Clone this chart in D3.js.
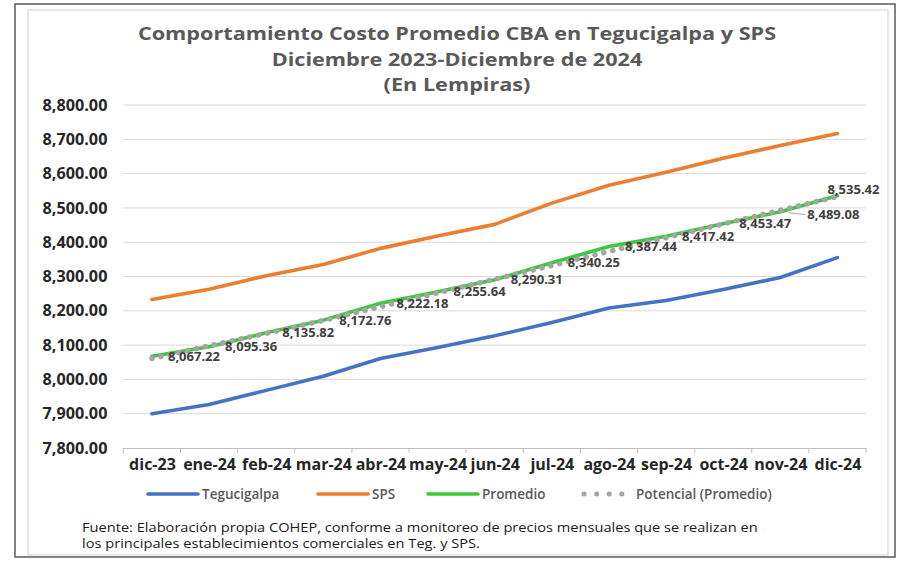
<!DOCTYPE html>
<html>
<head>
<meta charset="utf-8">
<script src="https://cdn.jsdelivr.net/npm/d3@7"></script>
<style>
  body { margin: 0; background: #fff; }
  svg { display: block; font-family: "Open Sans", sans-serif; }
</style>
</head>
<body>
<svg id="chart" width="918" height="563"></svg>
<script>
const months = ["dic-23", "ene-24", "feb-24", "mar-24", "abr-24", "may-24", "jun-24",
                "jul-24", "ago-24", "sep-24", "oct-24", "nov-24", "dic-24"];
const tegucigalpa = [7900, 7927, 7968, 8009, 8061, 8093, 8127, 8166, 8208, 8230, 8262, 8297, 8355];
const sps = [8233, 8263, 8302, 8335, 8382, 8418, 8452, 8514, 8566, 8604, 8645, 8682, 8717];
const promedio = [8067.22, 8095.36, 8135.82, 8172.76, 8222.18, 8255.64, 8290.31,
                  8340.25, 8387.44, 8417.42, 8453.47, 8489.08, 8535.42];
const potencial = [8061, 8098, 8134, 8172, 8212, 8252, 8292, 8332, 8373, 8413, 8453, 8493, 8533];
const yTicks = [7800, 7900, 8000, 8100, 8200, 8300, 8400, 8500, 8600, 8700, 8800];

const titleLines = ["Comportamiento Costo Promedio CBA en Tegucigalpa y SPS",
                    "Diciembre 2023-Diciembre de 2024",
                    "(En Lempiras)"];
const notes = ["Fuente: Elaboración propia COHEP, conforme a monitoreo de precios mensuales que se realizan en",
               "los principales establecimientos comerciales en Teg. y SPS."];

const svg = d3.select("#chart");

// frames
svg.append("rect").attr("x", 15).attr("y", 4).attr("width", 880).attr("height", 553)
  .attr("fill", "none").attr("stroke", "#595959").attr("stroke-width", 1.5);
svg.append("rect").attr("x", 28).attr("y", 10).attr("width", 860).attr("height", 545)
  .attr("fill", "none").attr("stroke", "#d9d9d9").attr("stroke-width", 1.2);

// title (the source text is horizontally stretched, so scale x a little)
svg.append("g").selectAll("text").data(titleLines).enter().append("text")
  .attr("transform", (d, i) => `translate(457,${40 + i * 25.5}) scale(1.17,1)`)
  .attr("text-anchor", "middle")
  .attr("font-size", 18.5).attr("font-weight", "bold").attr("fill", "#595959")
  .text(d => d);

const left = 123.4, right = 866;
const x = d3.scalePoint().domain(months).range([left, right]).padding(0.5);
const y = d3.scaleLinear().domain([7800, 8800]).range([448, 105]);

// gridlines
svg.append("g").selectAll("line").data(yTicks.slice(1)).enter().append("line")
  .attr("x1", left).attr("x2", right)
  .attr("y1", d => y(d)).attr("y2", d => y(d))
  .attr("stroke", "#d9d9d9").attr("stroke-width", 1);

// y axis labels
const yAxis = svg.append("g")
  .attr("transform", `translate(${left},0)`)
  .call(d3.axisLeft(y).tickValues(yTicks).tickFormat(d3.format(",.2f")).tickSize(0).tickPadding(16));
yAxis.select(".domain").remove();
yAxis.selectAll("text").attr("font-size", 16.2).attr("font-weight", "bold")
  .attr("fill", "#262626").attr("font-family", "Open Sans, sans-serif");

// x axis
const step = x.step();
const xAxis = svg.append("g").attr("transform", `translate(0,${y(7800)})`)
  .call(d3.axisBottom(x).tickSize(0).tickPadding(11));
xAxis.select(".domain").attr("stroke", "#bfbfbf");
xAxis.selectAll("text").attr("font-size", 16).attr("font-weight", "bold")
  .attr("fill", "#262626").attr("font-family", "Open Sans, sans-serif");
xAxis.append("g").selectAll("line").data(months.concat([""])).enter().append("line")
  .attr("x1", (d, i) => left + i * step).attr("x2", (d, i) => left + i * step)
  .attr("y1", 0).attr("y2", 5).attr("stroke", "#bfbfbf");

// series lines
const line = d3.line().x((d, i) => x(months[i])).y(d => y(d));
const series = [
  { values: tegucigalpa, color: "#4472C4" },
  { values: sps, color: "#ED7D31" },
  { values: promedio, color: "#3CC83C" }
];
series.forEach(s => {
  svg.append("path").datum(s.values).attr("d", line)
    .attr("fill", "none").attr("stroke", s.color).attr("stroke-width", 3.6)
    .attr("stroke-linejoin", "round").attr("stroke-linecap", "round");
});
svg.append("path").datum(potencial).attr("d", line)
  .attr("fill", "none").attr("stroke", "#A5A5A5").attr("stroke-width", 5.5)
  .attr("stroke-linecap", "round").attr("stroke-dasharray", "0.1 9");

// data labels
const fmt = d3.format(",.2f");
const offsets = promedio.map(() => [16, 0]);
offsets[11] = [27, 3];
offsets[12] = [-10, -6];
svg.append("line")
  .attr("x1", x(months[11]) + 8).attr("y1", y(promedio[11]) + 1)
  .attr("x2", x(months[11]) + 25).attr("y2", y(promedio[11]) + 3)
  .attr("stroke", "#a6a6a6").attr("stroke-width", 1);
svg.append("g").selectAll("text").data(promedio).enter().append("text")
  .attr("x", (d, i) => x(months[i]) + offsets[i][0])
  .attr("y", (d, i) => y(d) + offsets[i][1])
  .attr("dy", "0.35em")
  .attr("font-size", 13).attr("font-weight", "bold").attr("fill", "#404040")
  .text(d => fmt(d));

// legend
const legend = [
  { name: "Tegucigalpa", color: "#4472C4", x: 148, dots: false },
  { name: "SPS", color: "#ED7D31", x: 318, dots: false },
  { name: "Promedio", color: "#3CC83C", x: 428, dots: false },
  { name: "Potencial (Promedio)", color: "#A5A5A5", x: 584, dots: true }
];
const lg = svg.append("g").attr("transform", "translate(0,494)");
legend.forEach(l => {
  const ln = lg.append("line").attr("x1", l.x).attr("x2", l.x + (l.dots ? 39 : 50))
    .attr("y1", 0).attr("y2", 0).attr("stroke", l.color)
    .attr("stroke-width", l.dots ? 5 : 3.6).attr("stroke-linecap", "round");
  if (l.dots) ln.attr("stroke-dasharray", "0.1 12.5");
  lg.append("text").attr("x", l.x + (l.dots ? 52 : 54)).attr("y", 0).attr("dy", "0.35em")
    .attr("font-size", 13.5).attr("font-weight", 600).attr("fill", "#595959").text(l.name);
});

// source note
svg.append("g").selectAll("text").data(notes).enter().append("text")
  .attr("transform", (d, i) => `translate(82,${532 + i * 16}) scale(1.25,1)`)
  .attr("font-size", 11.7).attr("fill", "#1a1a1a")
  .text(d => d);
</script>
</body>
</html>
